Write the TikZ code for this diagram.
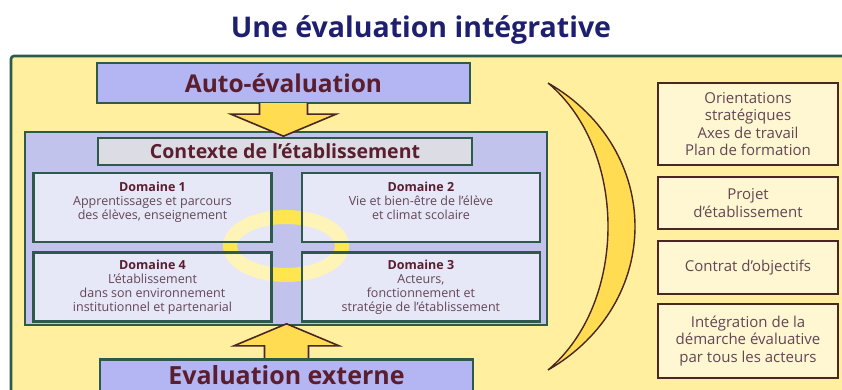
\documentclass[tikz,border=0pt]{standalone}
\usepackage{fontspec}
\setmainfont{Open Sans}
\usepackage{xcolor}
\usetikzlibrary{positioning, calc}

\definecolor{panelyellow}{HTML}{FFEF9F}
\definecolor{darkgreen}{HTML}{2E5A4C}
\definecolor{periwinkle}{HTML}{B4B5F3}
\definecolor{lavender}{HTML}{C2C3EC}
\definecolor{headgrey}{HTML}{DCDCE5}
\definecolor{maroon}{HTML}{5A1E2E}
\definecolor{domtext}{HTML}{634656}
\definecolor{navy}{HTML}{1F1F70}
\definecolor{gold}{HTML}{FFDC52}
\definecolor{brownline}{HTML}{4A2624}
\definecolor{cream}{HTML}{FFF7D1}
\definecolor{ringyellow}{HTML}{FFE54F}

\newcommand{\domtitle}[1]{{\color{maroon}\bfseries #1}}

\begin{document}
\begin{tikzpicture}[x=1pt, y=-1pt,
  gbox/.style={rectangle, draw=darkgreen, line width=2.4pt, inner sep=0pt, align=center},
  bigbox/.style={gbox, fill=periwinkle, minimum width=373pt, minimum height=40pt,
                 text=maroon},
  dbox/.style={gbox, fill=white, fill opacity=0.6, text opacity=1, minimum width=238pt,
               minimum height=69pt, font=\fontsize{12.5}{14}\selectfont, text=domtext},
  rbox/.style={rectangle, draw=brownline, line width=2pt, fill=cream, minimum width=180pt,
               align=center, font=\fontsize{15}{17.5}\selectfont, text=domtext},
  barrow/.style={draw=brownline, line width=1.6pt, fill=gold, line join=miter},
]
\useasboundingbox (0,0) rectangle (842,390);
\clip (0,0) rectangle (842,390);

%% ---- background and title ----
\fill[white] (0,0) rectangle (842,390);
\draw[darkgreen, line width=2.6pt, fill=panelyellow, rounded corners=3pt]
  (11,56) rectangle (870,420);
\node[font=\fontsize{28.5}{32}\selectfont\bfseries, text=navy] (title) at (421,30)
  {Une évaluation intégrative};

%% ---- left: the four domains ----
\node[bigbox, font=\fontsize{24.5}{28}\selectfont\bfseries] (auto) at (283.5,83) {Auto-évaluation};
\node[gbox, fill=lavender, minimum width=522pt, minimum height=193pt] (panel) at (286,228.5) {};
\node[gbox, fill=headgrey, minimum width=374pt, minimum height=27pt,
      font=\fontsize{19.5}{22}\selectfont\bfseries, text=maroon] (ctx) at (285,151.5)
  {Contexte de l’établissement};

\coordinate (ringc) at (286,246);
\draw[ringyellow, line width=14pt] (ringc) ellipse [x radius=56pt, y radius=29pt];

\node[dbox, text depth=14pt] (d1) at (152.5,207.5)
  {\domtitle{Domaine 1}\\Apprentissages et parcours\\des élèves, enseignement};
\node[dbox, text depth=14pt, right=28pt of d1] (d2)
  {\domtitle{Domaine 2}\\Vie et bien-être de l’élève\\et climat scolaire};
\node[dbox, below=8pt of d1] (d4)
  {\domtitle{Domaine 4}\\L’établissement\\dans son environnement\\institutionnel et partenarial};
\node[dbox, below=8pt of d2] (d3)
  {\domtitle{Domaine 3}\\Acteurs,\\fonctionnement et\\stratégie de l’établissement};

% down arrow from the self-assessment
\draw[barrow] ($(auto.south)+(-24,-1)$) -- ++(0,11) -- ++(-28.5,0)
  -- ($(auto.south)+(0,32)$) -- ($(auto.south)+(52.5,10)$) -- ++(-28.5,0) -- ++(0,-11);

% up arrow from the external review
\node[bigbox, font=\fontsize{25}{28}\selectfont\bfseries, text depth=10pt] (ext) at (286.5,380)
  {Evaluation externe};
\draw[barrow] ($(ext.north)+(-22,1)$) -- ++(0,-14) -- ++(-30.5,0)
  -- ($(ext.north)+(0,-35)$) -- ($(ext.north)+(52.5,-13)$) -- ++(-30.5,0) -- ++(0,14);
\draw[darkgreen, line width=2.4pt] (ext.north west) -- (ext.north east);

%% ---- crescent ----
\draw[brownline, line width=1.4pt, fill=gold]
  (548,83) .. controls (664,150) and (664,303) .. (548,370)
  .. controls (628,303) and (628,150) .. (548,83) -- cycle;

%% ---- right: outputs ----
\node[rbox, minimum height=82pt] (r1) at (748,124)
  {Orientations\\stratégiques\\Axes de travail\\Plan de formation};
\node[rbox, minimum height=52pt, below=10pt of r1] (r2) {Projet\\d’établissement};
\node[rbox, minimum height=53pt, below=10pt of r2] (r3) {Contrat d’objectifs};
\node[rbox, minimum height=74pt, below=8pt of r3] (r4)
  {Intégration de la\\démarche évaluative\\par tous les acteurs};

\end{tikzpicture}
\end{document}
